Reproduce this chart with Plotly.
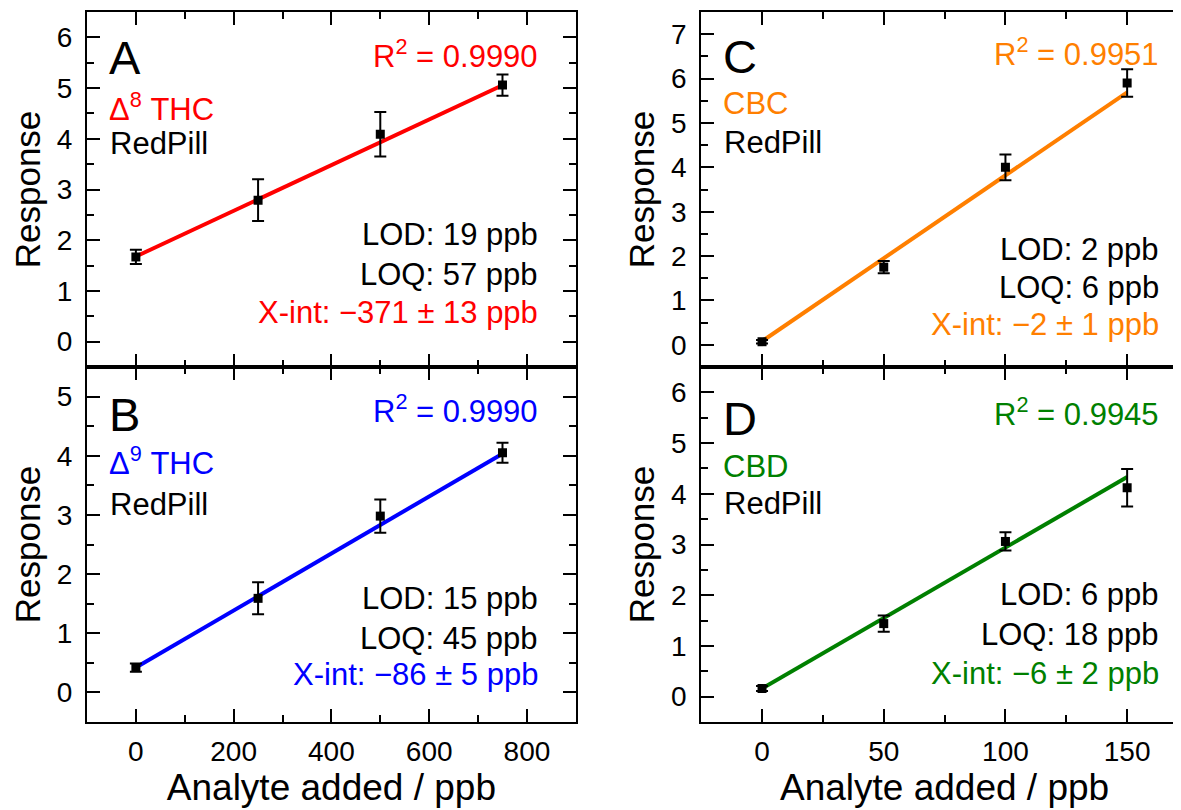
import plotly.graph_objects as go
from plotly.subplots import make_subplots

# ---------------- data ----------------
x_left = [0, 250, 500, 750]
x_right = [0, 50, 100, 150]

a_resp = [1.67, 2.79, 4.09, 5.06]
a_err = [0.14, 0.41, 0.44, 0.21]
b_resp = [0.42, 1.59, 2.98, 4.05]
b_err = [0.07, 0.27, 0.28, 0.17]
c_resp = [0.07, 1.75, 4.00, 5.90]
c_err = [0.04, 0.14, 0.29, 0.31]
d_resp = [0.16, 1.44, 3.06, 4.12]
d_err = [0.05, 0.16, 0.18, 0.37]

# fitted lines (intercept, slope)
a_fit = [1.68, 0.00450]
b_fit = [0.42, 0.00482]
c_fit = [0.08, 0.0374]
d_fit = [0.16, 0.0278]

panel_letters = ["A", "B", "C", "D"]
analytes = ["Δ<sup>8</sup> THC", "Δ<sup>9</sup> THC", "CBC", "CBD"]
sample = "RedPill"
r2_labels = ["R<sup>2</sup> = 0.9990", "R<sup>2</sup> = 0.9990", "R<sup>2</sup> = 0.9951", "R<sup>2</sup> = 0.9945"]
lod_labels = ["LOD: 19 ppb", "LOD: 15 ppb", "LOD: 2 ppb", "LOD: 6 ppb"]
loq_labels = ["LOQ: 57 ppb", "LOQ: 45 ppb", "LOQ: 6 ppb", "LOQ: 18 ppb"]
xint_labels = ["X-int: −371 ± 13 ppb", "X-int: −86 ± 5 ppb", "X-int: −2 ± 1 ppb", "X-int: −6 ± 2 ppb"]
x_title = "Analyte added / ppb"
y_title = "Response"

colors = ["#FF0000", "#0000FF", "#FF7F00", "#008000"]

# ---------------- figure ----------------
# page body has an 8px margin; figure coords = page coords - 8
OFF = 8
W, H = 1182, 802
ML, MR, MT = 79, 0, 4
PLOT_BOTTOM = 721.7 - OFF
MB = H - PLOT_BOTTOM
fig = make_subplots(rows=2, cols=2, vertical_spacing=0, horizontal_spacing=0.1)

FONT = "Arial, Liberation Sans, sans-serif"

panels = [
    # (row, col, xs, resp, err, fit, axis suffix)
    (1, 1, x_left, a_resp, a_err, a_fit, ""),
    (2, 1, x_left, b_resp, b_err, b_fit, "3"),
    (1, 2, x_right, c_resp, c_err, c_fit, "2"),
    (2, 2, x_right, d_resp, d_err, d_fit, "4"),
]

for i, (r, c, xs, ys, es, fit, sfx) in enumerate(panels):
    x0, x1 = xs[0], xs[-1]
    fig.add_trace(go.Scatter(
        x=[x0, x1], y=[fit[0] + fit[1] * x0, fit[0] + fit[1] * x1],
        mode="lines", line=dict(color=colors[i], width=4),
        showlegend=False, hoverinfo="skip"), row=r, col=c)
    fig.add_trace(go.Scatter(
        x=xs, y=ys, mode="markers",
        marker=dict(symbol="square", size=9, color="black"),
        error_y=dict(type="data", array=es, color="black", thickness=2, width=6),
        showlegend=False), row=r, col=c)

PW = W - ML - MR
left_dom = [0, (576.7 - OFF - ML) / PW]
right_dom = [(702.3 - OFF - ML) / PW, 1]

axis_common = dict(
    showline=True, linecolor="black", linewidth=2, mirror="allticks",
    ticks="inside", ticklen=13, tickwidth=2, tickcolor="black",
    showgrid=False, zeroline=False,
    tickfont=dict(family=FONT, size=28, color="black"),
)

yranges = {"": [-0.5, 6.5], "3": [-0.5, 5.5], "2": [-0.5, 7.5], "4": [-0.5, 6.5]}
for i, (r, c, xs, ys, es, fit, sfx) in enumerate(panels):
    xdom = left_dom if c == 1 else right_dom
    ydom = [0.5, 1] if r == 1 else [0, 0.5]
    if c == 1:
        xr, dt, mdt = [-100, 900], 200, 100
    else:
        xr, dt, mdt = [-25, 175], 50, 25
    xa = dict(axis_common, domain=xdom, range=xr, tick0=0, dtick=dt,
              minor=dict(ticks="inside", ticklen=7, tickwidth=2, tickcolor="black", dtick=mdt, tick0=0),
              showticklabels=(r == 2), ticklabelstandoff=3)
    if r == 2:
        xa["title"] = dict(text=x_title, font=dict(family=FONT, size=37, color="black"), standoff=4)
    ya = dict(axis_common, domain=ydom, range=yranges[sfx], tick0=0, dtick=1,
              minor=dict(ticks="inside", ticklen=7, tickwidth=2, tickcolor="black", dtick=0.5, tick0=0),
              ticklabelstandoff=7,
              title=dict(text=y_title, font=dict(family=FONT, size=35, color="black"), standoff=6))
    fig.update_layout(**{"xaxis" + sfx: xa, "yaxis" + sfx: ya})

# ---------------- text annotations ----------------
PH = (PLOT_BOTTOM - MT) / 2.0
pan_w = {1: 576.7 - 87.3, 2: 1190.3 - 702.3}
text_off = {
    "": dict(letter=45, r2=42, ana=95, smp=131, lod=222, loq=262, xint=300, right=453.5),
    "3": dict(letter=47, r2=42, ana=94, smp=137, lod=231, loq=271, xint=307, right=453.5),
    "2": dict(letter=44, r2=40, ana=91, smp=130, lod=237, loq=275, xint=312, right=460.7),
    "4": dict(letter=51, r2=45, ana=99, smp=136, lod=227, loq=267, xint=306, right=460.7),
}
for i, (r, c, xs, ys, es, fit, sfx) in enumerate(panels):
    o = text_off[sfx]
    xref = "x" + sfx + " domain"
    yref = "y" + sfx + " domain"
    pw = pan_w[c]

    def add(text, xpx, ypx, anchor, size, color):
        fig.add_annotation(text=text, x=xpx / pw, y=1 - ypx / PH, xref=xref, yref=yref,
                           xanchor=anchor, yanchor="middle", showarrow=False,
                           font=dict(family=FONT, size=size, color=color))

    add(panel_letters[i], 20, o["letter"], "left", 47, "black")
    add(analytes[i], 20, o["ana"], "left", 31, colors[i])
    add(sample, 21, o["smp"], "left", 31, "black")
    add(r2_labels[i], o["right"], o["r2"], "right", 31, colors[i])
    add(lod_labels[i], o["right"], o["lod"], "right", 31, "black")
    add(loq_labels[i], o["right"], o["loq"], "right", 31, "black")
    add(xint_labels[i], o["right"], o["xint"], "right", 31, colors[i])

fig.update_layout(
    width=W, height=H,
    margin=dict(l=ML, r=MR, t=MT, b=MB),
    paper_bgcolor="white", plot_bgcolor="white",
    font=dict(family=FONT, color="black"),
)

fig.write_html("out.html")
